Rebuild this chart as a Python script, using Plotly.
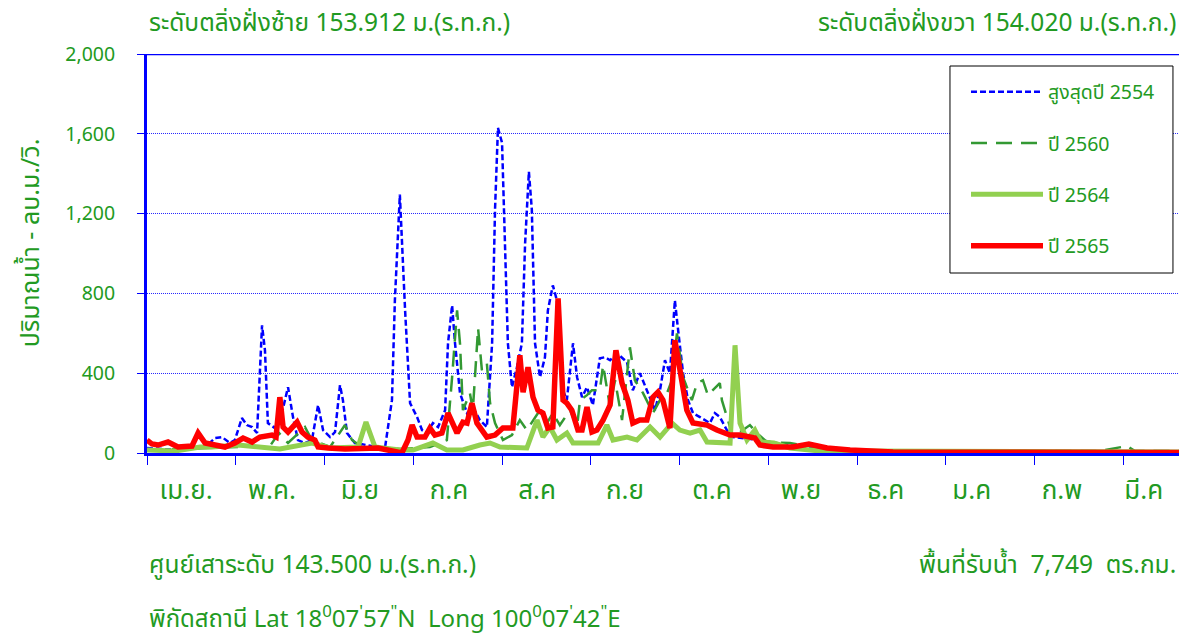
import plotly.graph_objects as go

# ---------------- data (x = day index from 1 Apr, y = m3/s) ----------------
month_labels = ["เม.ย.", "พ.ค.", "มิ.ย", "ก.ค", "ส.ค", "ก.ย", "ต.ค", "พ.ย", "ธ.ค", "ม.ค", "ก.พ", "มี.ค"]
month_label_pos = [13.4, 42.8, 72.9, 103.4, 133.6, 163.7, 193.5, 224.0, 253.0, 282.5, 313.4, 341.4]
month_ticks = [0, 30.4, 60.8, 91.2, 121.6, 152.0, 182.4, 212.8, 243.2, 273.6, 304.0, 334.4, 364.8]

y_ticks = [0, 400, 800, 1200, 1600, 2000]

x_2554 = [0, 10.6, 19.9, 23.3, 25.7, 28.4, 30.1, 32.5, 34.2, 36.0, 37.7, 39.4, 40.4, 41.4, 43.8, 46.2, 48.3, 50.0,
          51.7, 54.1, 56.5, 58.6, 60.3, 62.7, 64.4, 66.1, 67.1, 68.5, 71.2, 74.7, 79.1, 81.5, 83.9, 84.9, 86.6,
          88.4, 90.1, 92.5, 94.2, 95.9, 97.9, 99.7, 102.1, 103.1, 104.5, 105.5, 107.2, 109.6, 111.6, 114.0,
          116.4, 118.2, 119.2, 120.2, 121.6, 122.6, 123.6, 125.0, 126.7, 128.4, 129.5, 130.8, 131.8, 132.9,
          134.6, 136.3, 137.3, 139.0, 140.4, 142.1, 143.8, 145.9, 147.3, 149.0, 150.7, 152.7, 155.1, 156.8,
          158.6, 161.0, 164.4, 166.4, 168.8, 171.2, 174.0, 175.7, 177.4, 179.1, 180.8, 181.8, 183.6, 185.3,
          187.0, 189.4, 192.8, 194.5, 196.2, 198.6, 200.7, 209.9, 223.6, 240.8, 275.0, 356.0]
y_2554 = [25, 15, 30, 75, 80, 50, 65, 175, 140, 130, 100, 640, 515, 150, 125, 200, 330, 180,
          65, 50, 65, 240, 115, 80, 105, 340, 265, 100, 50, 40, 30, 25, 265, 765, 1295,
          715, 250, 180, 115, 100, 150, 130, 215, 550, 740, 550, 300, 200, 230, 165,
          130, 550, 1220, 1630, 1555, 1050, 550, 330, 430, 550, 1050, 1410, 1220, 550,
          380, 480, 715, 840, 765, 330, 265, 550, 380, 280, 330, 240, 475, 480,
          465, 500, 455, 315, 400, 315, 215, 315, 465, 400, 765, 630, 400, 265,
          200, 180, 150, 200, 180, 115, 80, 65, 30, 15, 10, 8]

x_2560 = [0, 18.2, 31.8, 42.1, 45.2, 48.3, 54.1, 56.5, 62.7, 67.8, 70.2, 73.6, 86.6, 96.9, 100.3, 102.7, 104.5,
          106.2, 107.2, 108.2, 110.6, 111.6, 113.4, 114.7, 116.4, 117.5, 119.2, 121.9, 125.0, 127.7, 130.1,
          134.6, 137.0, 139.0, 141.4, 144.9, 147.3, 148.3, 150.7, 152.4, 155.1, 156.2, 158.6, 160.3, 162.7,
          165.4, 167.1, 169.9, 173.3, 175.7, 178.1, 179.8, 181.5, 183.6, 186.6, 188.4, 190.4, 192.1, 193.8,
          196.2, 196.9, 198.6, 200.7, 206.5, 208.9, 212.3, 220.2, 230.5, 244.2, 326.4, 335.6, 338.4, 356.0]
y_2560 = [15, 25, 30, 35, 100, 50, 130, 65, 30, 140, 65, 30, 20, 30, 50, 65, 380,
          715, 550, 215, 300, 215, 625, 415, 450, 250, 150, 65, 90, 165, 115,
          215, 150, 200, 140, 215, 130, 265, 290, 315, 315, 440, 230, 365, 165,
          530, 365, 300, 200, 265, 300, 365, 600, 380, 265, 350, 365, 290, 315,
          350, 265, 180, 80, 140, 100, 55, 50, 25, 10, 10, 35, 10, 10]

x_2564 = [0, 9.6, 18.2, 22.3, 31.2, 37.0, 45.5, 56.5, 62.7, 72.3, 75.0, 78.1, 86.6, 91.1, 97.9, 102.7, 108.2,
          114.0, 117.5, 120.9, 125.3, 130.1, 133.6, 135.6, 138.0, 140.4, 143.8, 145.9, 150.7, 154.5, 157.5,
          159.6, 164.4, 167.8, 172.3, 175.7, 179.8, 182.5, 186.0, 189.4, 191.8, 196.2, 199.7, 201.4, 203.1,
          205.5, 208.2, 210.3, 214.7, 220.2, 230.5, 240.8, 356.0]
y_2564 = [15, 10, 30, 30, 40, 30, 20, 50, 25, 30, 155, 30, 15, 15, 50, 15, 15,
          40, 50, 30, 30, 25, 165, 80, 130, 65, 100, 50, 50, 50, 140,
          65, 80, 65, 130, 80, 150, 115, 100, 115, 55, 50, 50, 540, 150,
          65, 115, 55, 50, 25, 10, 10, 5]

x_2565 = [0, 1.7, 3.8, 7.2, 10.6, 15.4, 17.5, 19.9, 23.3, 26.7, 30.1, 32.9, 36.0, 38.7, 42.8, 44.2, 45.5, 46.6,
          48.3, 51.4, 53.1, 55.1, 57.5, 58.6, 62.0, 67.8, 79.1, 87.3, 89.4, 90.8, 92.5, 95.2, 96.9, 98.6,
          101.0, 103.1, 106.2, 108.2, 109.6, 111.3, 113.0, 116.4, 119.2, 121.9, 125.3, 127.7, 128.8, 130.5,
          132.2, 133.9, 135.6, 137.3, 139.0, 140.8, 142.5, 143.8, 145.5, 147.6, 149.0, 150.7, 152.4, 154.1,
          156.2, 158.6, 160.6, 162.7, 164.7, 166.4, 168.8, 171.2, 173.3, 175.0, 176.7, 179.1, 180.8, 182.5,
          184.9, 187.0, 191.8, 195.2, 199.7, 203.1, 208.2, 209.9, 214.4, 221.2, 226.7, 232.9, 240.8, 255.5, 356.0]
y_2565 = [65, 45, 40, 55, 30, 35, 100, 50, 40, 30, 50, 75, 55, 80, 90, 80, 280, 130,
          105, 155, 105, 80, 65, 30, 25, 20, 25, 0, 65, 140, 80, 80, 125, 90,
          100, 200, 100, 155, 150, 250, 150, 80, 90, 125, 125, 490, 305, 430,
          280, 215, 200, 125, 130, 775, 265, 250, 215, 115, 115, 230, 105, 115,
          165, 240, 515, 350, 265, 150, 165, 165, 280, 305, 265, 125, 565, 430,
          215, 150, 140, 115, 90, 90, 75, 40, 30, 30, 45, 25, 15, 5, 3]

series_names = ["สูงสุดปี 2554", "ปี 2560", "ปี 2564", "ปี 2565"]

# ---------------- styling ----------------
GREEN = "#229A22"
BLUE = "#0000FF"
FONT = "Tahoma, 'Noto Sans Thai', 'Leelawadee UI', 'Noto Sans', 'DejaVu Sans', sans-serif"

fig = go.Figure()
fig.add_trace(go.Scatter(x=x_2554, y=y_2554, mode="lines", name=series_names[0], legendgroup="a",
                         line=dict(color=BLUE, width=2.5, dash="6px,3px")))
fig.add_trace(go.Scatter(x=x_2560, y=y_2560, mode="lines", name=series_names[1], legendgroup="b",
                         line=dict(color="#339933", width=2.5, dash="16px,9px")))
fig.add_trace(go.Scatter(x=x_2564, y=y_2564, mode="lines", name=series_names[2], legendgroup="c",
                         line=dict(color="#92D050", width=5)))
fig.add_trace(go.Scatter(x=x_2565, y=y_2565, mode="lines", name=series_names[3], legendgroup="d",
                         line=dict(color="#FF0000", width=5.5)))
# invisible trace to carry the month label axis
fig.add_trace(go.Scatter(x=[month_label_pos[0]], y=[None], xaxis="x2", showlegend=False, hoverinfo="skip"))

# page body has an 8px default margin, so the figure is 8px smaller than the window
fig.update_layout(
    width=1179, height=630,
    margin=dict(l=139, r=0, t=46, b=185, autoexpand=False),
    paper_bgcolor="white", plot_bgcolor="white",
    font=dict(family=FONT, color=GREEN),
    showlegend=True,
    legend=dict(x=0.7875, y=0.97, xanchor="left", yanchor="top",
                borderwidth=0, bgcolor="rgba(0,0,0,0)",
                font=dict(size=19.5, color=GREEN, family=FONT),
                title=dict(text=" ", font=dict(size=5)),
                itemwidth=72, tracegroupgap=23),
    xaxis=dict(range=[0, 356.2], tickvals=month_ticks, showticklabels=False,
               ticks="outside", ticklen=9, tickcolor=BLUE, tickwidth=1,
               showline=True, linecolor=BLUE, linewidth=3, showgrid=False, zeroline=False,
               layer="below traces", fixedrange=True, automargin=False),
    xaxis2=dict(range=[0, 356.2], overlaying="x", anchor="y", side="bottom",
                tickvals=month_label_pos, ticktext=month_labels, ticks="",
                showline=False, showgrid=False, zeroline=False, automargin=False,
                tickfont=dict(size=26, color=GREEN, family=FONT), ticklabelstandoff=19),
    yaxis=dict(range=[0, 2000], tickvals=y_ticks, tickformat=",",
               ticks="outside", ticklen=7, tickcolor=BLUE, tickwidth=1,
               showline=True, linecolor=BLUE, linewidth=3,
               showgrid=True, gridcolor="rgb(40,40,255)", gridwidth=1, griddash="1px,1px",
               zeroline=False, layer="below traces", automargin=False,
               tickfont=dict(size=19.5, color=GREEN, family=FONT), ticklabelstandoff=18),
)

fig.add_shape(type="line", xref="paper", yref="y", x0=0, x1=1, y0=2000, y1=2000,
              line=dict(color=BLUE, width=2.5), layer="below")
# legend frame
fig.add_shape(type="rect", xref="paper", yref="paper", x0=0.7721, x1=0.9865, y0=0.4511, y1=0.9699,
              line=dict(color="black", width=1), fillcolor="white", layer="above")

def ann(text, x, y, xanchor, size=24.5, **kw):
    fig.add_annotation(text=text, xref="paper", yref="paper", x=x, y=y, xanchor=xanchor,
                       yanchor="middle", showarrow=False, font=dict(size=size, color=GREEN, family=FONT), **kw)

ann("ระดับตลิ่งฝั่งซ้าย 153.912 ม.(ร.ท.ก.)", 0.0, 1.076, "left")
ann("ระดับตลิ่งฝั่งขวา 154.020 ม.(ร.ท.ก.)", 0.991, 1.076, "right")
ann("ศูนย์เสาระดับ 143.500 ม.(ร.ท.ก.)", 0.0, -0.281, "left")
ann("พื้นที่รับน้ำ  7,749  ตร.กม.", 0.991, -0.281, "right")
ann("พิกัดสถานี Lat 18<sup>0</sup>07<sup>'</sup>57<sup>\"</sup>N  Long 100<sup>0</sup>07<sup>'</sup>42<sup>\"</sup>E",
    0.0, -0.414, "left", size=24)
ann("ปริมาณน้ำ - ลบ.ม./วิ.", -0.1115, 0.526, "center", size=25, textangle=-90)

fig.write_html("out.html")
